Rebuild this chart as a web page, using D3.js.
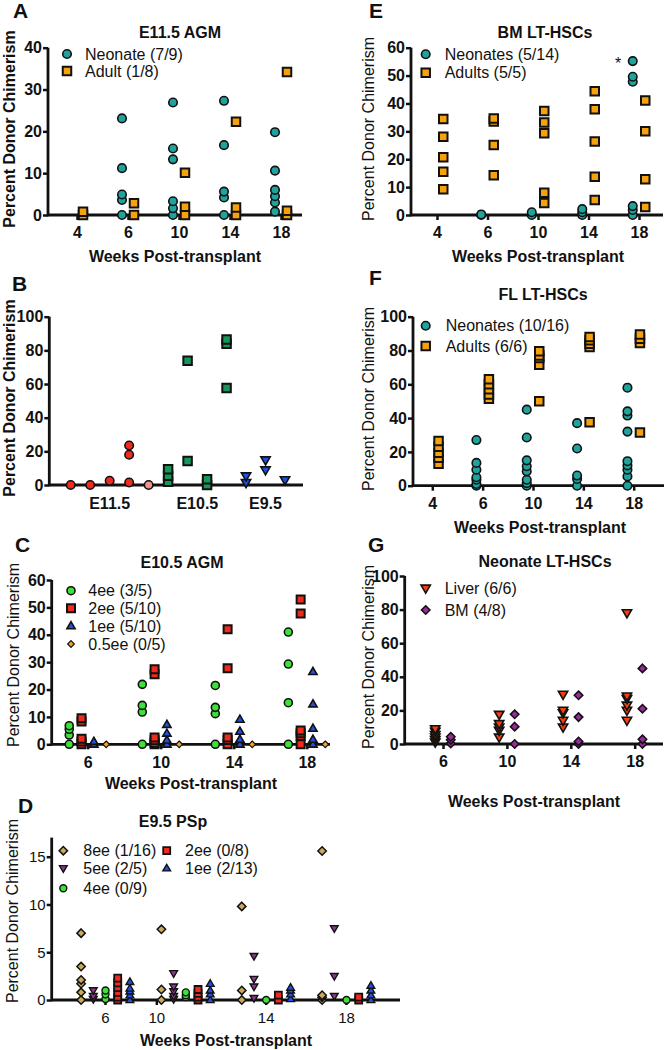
<!DOCTYPE html>
<html><head><meta charset="utf-8">
<script src="https://cdn.jsdelivr.net/npm/d3@7"></script>
<style>
body{margin:0;background:#fff}
svg{display:block}
text{font-family:Arial,"Liberation Sans",sans-serif;fill:#111}
</style>
</head><body>
<svg id="c" width="666" height="1050"></svg>
<script>
// ================= DATA =================
const weeks5 = ["4","6","10","14","18"];
const weeks4 = ["6","10","14","18"];

// Panel A: E11.5 AGM
const aNeonate = [[], [23.1,11.2,4.9,3.6,0], [26.9,15.9,13.3,3.3,1.6,0], [27.3,16.7,5.6,4.2,0], [19.8,10.6,6,4.5,3,0.8]];
const aAdult   = [[0.8,0], [2.8,0], [10.1,2,0], [22.3,1.8,0], [34.2,1,0]];

// Panel E: BM LT-HSCs
const eNeonates = [[], [0.2,0], [1,0], [2.1,1,0], [55.2,49.6,47.8,3.2,1.8,0]];
const eAdults   = [[34.4,28.1,20.7,15.5,9.2], [34.6,33.5,25.1,14.3], [37.3,33.2,29.3,8,4.3], [44.4,37.9,26.4,13.7,5.4], [41.1,30,12.8,2.9]];

// Panel B: columns grouped by embryonic day
const bGroups   = ["E11.5","E10.5","E9.5"];
const bColGroup = ["E11.5","E11.5","E11.5","E11.5","E11.5","E10.5","E10.5","E10.5","E10.5","E9.5","E9.5","E9.5"];
const bColKind  = ["red","red","red","red","pink","green","green","green","green","blue","blue","blue"];
const bValues   = [[0],[0],[2.5],[23.5,18,1.5],[0],[9.3,5.5,2],[73.8,14.2],[3.4,0],[86.4,84,57.7],[5.3,1.4],[14.8,8.9],[3]];

// Panel C: E10.5 AGM
const c4ee  = [[6.8,5.5,3.4,0], [21.9,14.2,11.8,0], [21.5,13.5,11.2,0], [41,29.3,15.2,0]];
const c2ee  = [[9.5,8.3,2,1,0], [27.4,25.6,2.5,1.5,0.5,0], [42,27.8,2.5,1.6,0], [52.9,47.8,5,4,3,0]];
const c1ee  = [[1,0], [7.2,4,1.5,0], [9.1,4.7,1.8,0], [26.5,14.7,5.8,1.8,0]];
const c05ee = [[0], [0], [0], [0]];

// Panel D: E9.5 PSp
const d8ee = [[7,3.5,2.1,1.7,0.8,0], [7.4,1.1,0], [9.8,1,0], [15.6,0.5,0.3,0]];
const d5ee = [[1,0.4,0.1], [2.8,1.4,0.9,0.4,0.1], [4.6,2.2,1.4,0.2], [7.5,2.5,0.4]];
const d4ee = [[1,0.6,0.1], [0.8,0.5,0.3], [0], [0]];
const d2ee = [[2.3,1.8,1.3,0.8,0.3,0], [1.1,0.7,0.3,0], [0.5,0], [0.3,0]];
const d1ee = [[1.9,1.2,0.9,0.5,0], [1.7,1.0,0.6,0], [1.3,1.0,0.6,0.1], [1.5,1,0.5,0]];

// Panel F: FL LT-HSCs
const fNeonates = [[], [27,13.5,9.5,5,3.5,1,0], [45,28.5,15,11.5,8.5,3.5,1.5,0], [37,22,6,4,0], [58,44,41.5,32,14.5,12,9.5,5.5,0]];
const fAdults   = [[26.5,23,19.5,16.5,13], [63,60,57,54,51.5], [79.5,77,75.5,71.5,50], [88,86,84,82,37.5], [89.5,87,84.5,31.5]];

// Panel G: Neonate LT-HSCs
const gLiver = [[9,7.5,5.5,4,2.5,1], [17.5,12,10,8,4], [29.5,20,18.5,14,10], [78,28.5,27,23,20,14]];
const gBM    = [[4.3,2.5,0.3], [17.7,10.3,0], [29,16,1.5,0], [45,21,2.8,0]];

// ================= STYLES =================
const COL = {
  teal:"#1fa39c", orange:"#f6a20c", red:"#ee2b1c", pink:"#f49090", green:"#15975a",
  blue:"#2050e6", lgreen:"#3ee03a", lorange:"#f5a623", tan:"#c9a95c", purple:"#8e378e",
  liver:"#f2400e", bmpurple:"#9b2a9b"
};
const svg = d3.select("#c");

function markerPath(type, s){
  const h = s/2;
  switch(type){
    case "circle": return d3.symbol(d3.symbolCircle, Math.PI*h*h)();
    case "square": return d3.symbol(d3.symbolSquare, s*s)();
    case "diamond": return `M0,${-h*1.2}L${h*1.2},0L0,${h*1.2}L${-h*1.2},0Z`;
    case "triUp": return `M0,${-h*1.15}L${h*1.1},${h*0.75}L${-h*1.1},${h*0.75}Z`;
    case "triDown": return `M0,${h*1.15}L${h*1.1},${-h*0.75}L${-h*1.1},${-h*0.75}Z`;
  }
}
function drawMarker(g, type, s, fill, x, y, sw){
  g.append("path").attr("d", markerPath(type, s))
   .attr("transform", `translate(${x},${y})`)
   .attr("fill", fill).attr("stroke", "#111").attr("stroke-width", sw||1.6);
}

function panel(cfg){
  const g = svg.append("g");
  const y = d3.scaleLinear().domain([0, cfg.ymax]).range([cfg.y0, cfg.yTop]);
  const x = d3.scalePoint().domain(cfg.cats).range(cfg.xr);
  const fw = cfg.tickBold === false ? "normal" : "bold";
  const ya = g.append("g").attr("transform", `translate(${cfg.ax},0)`)
    .call(d3.axisLeft(y).tickValues(cfg.yticks).tickSize(5).tickPadding(1));
  ya.select(".domain").remove();
  ya.selectAll("line").attr("stroke","#111").attr("stroke-width",2.5);
  ya.selectAll("text").attr("font-size", cfg.tickFs||16).attr("font-weight", fw)
    .attr("font-family","Arial, 'Liberation Sans', sans-serif").attr("fill","#111");
  const xa = g.append("g").attr("transform", `translate(0,${cfg.y0})`)
    .call(d3.axisBottom(x).tickSize(5).tickPadding(7));
  xa.select(".domain").remove();
  if (cfg.tickShift) xa.selectAll(".tick")
    .attr("transform", d => `translate(${x(d) + (cfg.tickShift[d]||0)},0)`);
  xa.selectAll("line").attr("stroke","#111").attr("stroke-width",2.5);
  xa.selectAll("text").attr("font-size", cfg.xtickFs||cfg.tickFs||16).attr("font-weight", fw)
    .attr("font-family","Arial, 'Liberation Sans', sans-serif").attr("fill","#111");
  g.append("line").attr("x1",cfg.ax).attr("x2",cfg.ax).attr("y1",cfg.y0+1.25).attr("y2",y(cfg.ymax))
    .attr("stroke","#111").attr("stroke-width",2.8);
  g.append("line").attr("x1",cfg.ax).attr("x2",cfg.axEnd).attr("y1",cfg.y0).attr("y2",cfg.y0)
    .attr("stroke","#111").attr("stroke-width",2.8);
  const n = cfg.series.length;
  cfg.series.forEach((s,i)=>{
    const off = (i-(n-1)/2)*cfg.step;
    cfg.cats.forEach((c,j)=>{
      (s.values[j]||[]).slice().reverse().forEach(v=>{
        drawMarker(g, s.shape, s.size, s.color, x(c)+off, y(v), s.sw);
      });
    });
  });
  g.append("text").attr("x",cfg.letter[1]).attr("y",cfg.letter[2]).attr("font-size",21)
    .attr("font-weight","bold").text(cfg.letter[0]);
  if (cfg.title) g.append("text").attr("x",cfg.title[1]).attr("y",cfg.title[2]).attr("text-anchor","middle")
    .attr("font-size",16).attr("font-weight","bold").text(cfg.title[0]);
  if (cfg.xlab) g.append("text").attr("x",cfg.xlab[0]).attr("y",cfg.xlab[1]).attr("text-anchor","middle")
    .attr("font-size",16).attr("font-weight","bold").text("Weeks Post-transplant");
  g.append("text").attr("transform",`translate(${cfg.ylab[0]},${cfg.ylab[1]}) rotate(-90)`)
    .attr("text-anchor","middle").attr("dominant-baseline","central")
    .attr("font-size",16).attr("font-weight", cfg.ylabBold ? "bold":"normal").text("Percent Donor Chimerism");
  if (cfg.legend){
    cfg.legend.items.forEach((it,k)=>{
      const s = cfg.series[it.si];
      drawMarker(g, s.shape, s.size, s.color, it.mx, it.y, s.sw);
      g.append("text").attr("x", it.tx).attr("y", it.y).attr("dominant-baseline","central")
        .attr("font-size",16).text(it.label);
    });
  }
  return {g,x,y};
}

// ---------- A ----------
panel({
  letter:["A",13,18], title:["E11.5 AGM",180,38], xlab:[175,262], ylab:[9,129], ylabBold:true,
  ax:48, axEnd:302, y0:215, yTop:47.7, ymax:40, yticks:[0,10,20,30,40],
  cats:weeks5, xr:[77,281], step:12,
  series:[
    {values:aNeonate, shape:"circle", size:8.5, color:COL.teal},
    {values:aAdult, shape:"square", size:8.5, color:COL.orange, sw:2}
  ],
  legend:{items:[{si:0,mx:67,tx:85,y:54,label:"Neonate (7/9)"},{si:1,mx:67,tx:85,y:71,label:"Adult (1/8)"}]}
});

// ---------- E ----------
const pE = panel({
  letter:["E",369,18], title:["BM LT-HSCs",545,38], xlab:[538,262], ylab:[368,129],
  ax:411, axEnd:663, y0:215, yTop:47.7, ymax:60, yticks:[0,10,20,30,40,50,60],
  cats:weeks5, xr:[437,639], step:12.5,
  series:[
    {values:eNeonates, shape:"circle", size:8.5, color:COL.teal},
    {values:eAdults, shape:"square", size:8.5, color:COL.orange, sw:2}
  ],
  legend:{items:[{si:0,mx:425.7,tx:444.7,y:54.3,label:"Neonates (5/14)"},{si:1,mx:425.7,tx:444.7,y:72.7,label:"Adults (5/5)"}]}
});
pE.g.append("text").attr("x", pE.x("18")-21).attr("y", pE.y(55.2)+8).attr("text-anchor","middle")
  .attr("font-size",16).text("*");

// ---------- B ----------
(function(){
  const g = svg.append("g");
  const ax=49.3, axEnd=303, y0=485, yTop=316.7;
  const y = d3.scaleLinear().domain([0,100]).range([y0,yTop]);
  const cols = d3.range(bValues.length);
  const x = d3.scalePoint().domain(cols).range([70.7,285]);
  const kindStyle = {
    red:{shape:"circle",size:8.5,color:COL.red},
    pink:{shape:"circle",size:8.5,color:COL.pink},
    green:{shape:"square",size:8.5,color:COL.green,sw:2},
    blue:{shape:"triDown",size:8.5,color:COL.blue}
  };
  const ya = g.append("g").attr("transform",`translate(${ax},0)`)
    .call(d3.axisLeft(y).tickValues([0,20,40,60,80,100]).tickSize(5).tickPadding(1));
  ya.select(".domain").remove();
  ya.selectAll("line").attr("stroke","#111").attr("stroke-width",2.5);
  ya.selectAll("text").attr("font-size",16).attr("font-weight","bold")
    .attr("font-family","Arial, 'Liberation Sans', sans-serif").attr("fill","#111");
  g.append("line").attr("x1",ax).attr("x2",ax).attr("y1",y0+1.25).attr("y2",yTop).attr("stroke","#111").attr("stroke-width",2.8);
  g.append("line").attr("x1",ax).attr("x2",axEnd).attr("y1",y0).attr("y2",y0).attr("stroke","#111").attr("stroke-width",2.8);
  cols.forEach(c=>{
    const st = kindStyle[bColKind[c]];
    bValues[c].slice().reverse().forEach(v=>drawMarker(g, st.shape, st.size, st.color, x(c), y(v), st.sw));
  });
  bGroups.forEach(gr=>{
    const xs = cols.filter(c=>bColGroup[c]===gr).map(c=>x(c));
    g.append("text").attr("x", d3.mean(xs)).attr("y", 509).attr("text-anchor","middle")
      .attr("font-size",16).attr("font-weight","bold").text(gr);
  });
  g.append("text").attr("x",12).attr("y",291).attr("font-size",21).attr("font-weight","bold").text("B");
  g.append("text").attr("transform",`translate(9,398) rotate(-90)`).attr("text-anchor","middle")
    .attr("dominant-baseline","central").attr("font-size",16).attr("font-weight","bold").text("Percent Donor Chimerism");
})();

// ---------- F ----------
panel({
  letter:["F",369,285], title:["FL LT-HSCs",543,300], xlab:[540,533], ylab:[368,399],
  ax:413, axEnd:664, y0:485.7, yTop:316.7, ymax:100, yticks:[0,20,40,60,80,100],
  cats:weeks5, xr:[432.3,633.7], step:12.5,
  series:[
    {values:fNeonates, shape:"circle", size:8.5, color:COL.teal},
    {values:fAdults, shape:"square", size:8.5, color:COL.orange, sw:2}
  ],
  legend:{items:[{si:0,mx:425.7,tx:445.7,y:325.7,label:"Neonates (10/16)"},{si:1,mx:425.7,tx:445.7,y:346,label:"Adults (6/6)"}]}
});

// ---------- C ----------
panel({
  letter:["C",15,552], title:["E10.5 AGM",182,568], xlab:[191,789], ylab:[13,655],
  ax:51.7, axEnd:330, y0:744.3, yTop:580, ymax:60, yticks:[0,10,20,30,40,50,60],
  cats:weeks4, xr:[87.7,306.8], step:12.3,
  series:[
    {values:c4ee, shape:"circle", size:8, color:COL.lgreen},
    {values:c2ee, shape:"square", size:8, color:COL.red, sw:2},
    {values:c1ee, shape:"triUp", size:7.5, color:COL.blue},
    {values:c05ee, shape:"diamond", size:5.5, color:COL.lorange, sw:1.2}
  ],
  legend:{items:[
    {si:0,mx:71,tx:88.3,y:590.7,label:"4ee (3/5)"},
    {si:1,mx:71,tx:88.3,y:608.3,label:"2ee (5/10)"},
    {si:2,mx:71,tx:88.3,y:626,label:"1ee (5/10)"},
    {si:3,mx:71,tx:88.3,y:644,label:"0.5ee (0/5)"}]}
});

// ---------- G ----------
panel({
  letter:["G",368,552], title:["Neonate LT-HSCs",545,567], xlab:[534,807], ylab:[368,657],
  ax:404.7, axEnd:663, y0:744, yTop:576, ymax:100, yticks:[0,20,40,60,80,100],
  cats:weeks4, xr:[443,634.7], step:15.5,
  series:[
    {values:gLiver, shape:"triDown", size:8.5, color:COL.liver},
    {values:gBM, shape:"diamond", size:7, color:COL.bmpurple}
  ],
  legend:{items:[{si:0,mx:425.7,tx:444.7,y:588.3,label:"Liver (6/6)"},{si:1,mx:425.7,tx:444.7,y:610,label:"BM (4/8)"}]}
});

// ---------- D ----------
panel({
  letter:["D",18,813], title:["E9.5 PSp",173,827], xlab:[226,1046], ylab:[12,911],
  ax:51.7, axEnd:400, y0:1000, yTop:837.6, ymax:17, yticks:[0,5,10,15],
  tickBold:false, tickFs:15, tickShift:{"10":-29},
  cats:weeks4, xr:[105.5,346.5], step:12.2,
  series:[
    {values:d8ee, shape:"diamond", size:7, color:COL.tan, sw:1.5},
    {values:d5ee, shape:"triDown", size:7, color:COL.purple, sw:1.4},
    {values:d4ee, shape:"circle", size:7, color:COL.lgreen, sw:1.4},
    {values:d2ee, shape:"square", size:7, color:COL.red, sw:1.8},
    {values:d1ee, shape:"triUp", size:7, color:COL.blue, sw:1.4}
  ],
  legend:{items:[
    {si:0,mx:63.3,tx:83.3,y:850.7,label:"8ee (1/16)"},
    {si:1,mx:63.3,tx:83.3,y:868.3,label:"5ee (2/5)"},
    {si:2,mx:63.3,tx:83.3,y:888.3,label:"4ee (0/9)"},
    {si:3,mx:166.7,tx:185,y:850.7,label:"2ee (0/8)"},
    {si:4,mx:166.7,tx:185,y:868.3,label:"1ee (2/13)"}]}
});
</script>
</body></html>
